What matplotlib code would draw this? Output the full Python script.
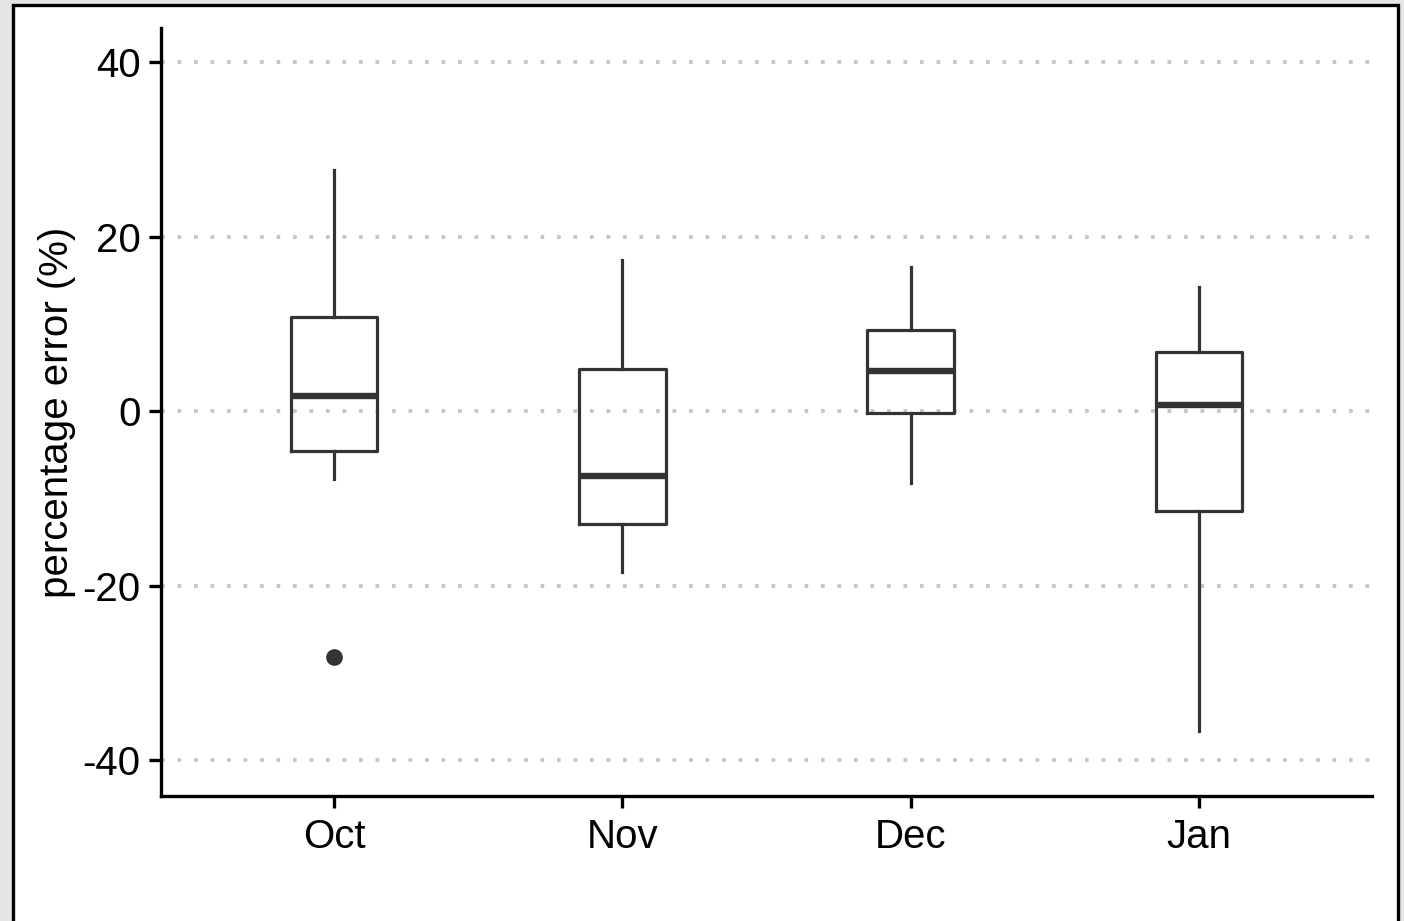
import matplotlib
matplotlib.use("Agg")
import matplotlib.pyplot as plt
from matplotlib.patches import Rectangle

plt.rcParams['font.family'] = ['Liberation Sans', 'DejaVu Sans']

months = ['Oct', 'Nov', 'Dec', 'Jan']
whisker_lo = [-7.8, -18.4, -8.2, -36.7]
q1 = [-4.6, -12.9, -0.2, -11.5]
median = [1.7, -7.4, 4.6, 0.7]
q3 = [10.8, 4.8, 9.3, 6.8]
whisker_hi = [27.6, 17.3, 16.5, 14.2]
outliers = [[-28.2], [], [], []]

yticks = [-40, -20, 0, 20, 40]

ink = '#333333'

fig = plt.figure(figsize=(14.04, 9.21), dpi=100)
fig.patch.set_facecolor('#e5e5e5')
# white panel with black frame, kept underneath the axes
fig.patches.append(Rectangle((12.5 / 1404, -0.05), 1385 / 1404, 1 - 5 / 921 + 0.05,
                             transform=fig.transFigure, facecolor='white',
                             edgecolor='black', linewidth=2.4, zorder=-1))

ax = fig.add_axes([161 / 1404, 1 - 796 / 921, (1372 - 161) / 1404, (796 - 28) / 921])
ax.set_facecolor('white')

stats = []
for i, m in enumerate(months):
    stats.append(dict(label=m, whislo=whisker_lo[i], q1=q1[i], med=median[i],
                      q3=q3[i], whishi=whisker_hi[i], fliers=outliers[i]))

ax.bxp(stats, positions=range(1, len(months) + 1), widths=0.3, showcaps=False,
       boxprops=dict(color=ink, linewidth=2.3),
       whiskerprops=dict(color=ink, linewidth=2.3),
       medianprops=dict(color=ink, linewidth=4.6, solid_capstyle='butt'),
       flierprops=dict(marker='o', markerfacecolor=ink, markeredgecolor=ink,
                       markersize=11),
       zorder=3)

ax.set_xlim(0.4, 4.6)
ax.set_ylim(-44.1, 43.9)
ax.set_yticks(yticks)
ax.set_yticklabels([str(v) for v in yticks])
ax.set_xticks(range(1, len(months) + 1))
ax.set_xticklabels(months)

ax.yaxis.grid(True, linestyle=(0, (1, 3.4)), color='#c4c4c4', linewidth=2.7,
              dash_capstyle='butt')
ax.set_axisbelow(True)

for side in ['top', 'right']:
    ax.spines[side].set_visible(False)
for side in ['left', 'bottom']:
    ax.spines[side].set_linewidth(2.4)
    ax.spines[side].set_color('black')

ax.tick_params(axis='both', length=8.5, width=2.4, color='black', labelsize=29,
               labelcolor='black')
ax.tick_params(axis='x', pad=7)
ax.tick_params(axis='y', pad=6)
ax.set_ylabel('percentage error (%)', fontsize=29, labelpad=5)

fig.savefig('out.png', dpi=100, facecolor=fig.get_facecolor())
